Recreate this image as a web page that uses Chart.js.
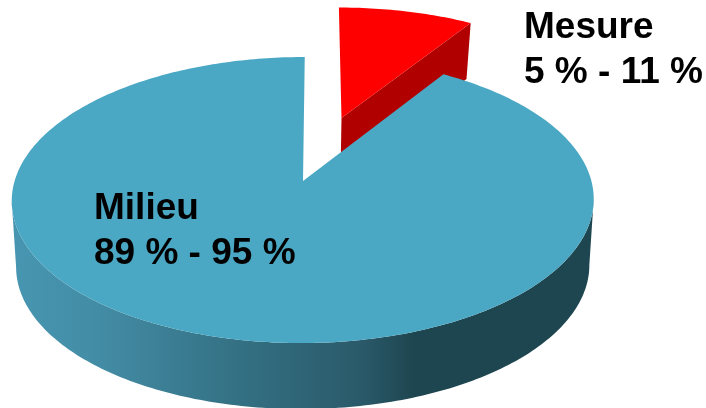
<!DOCTYPE html>
<html lang="fr">
<head>
<meta charset="utf-8">
<title>Mesure / Milieu</title>
<script src="https://cdn.jsdelivr.net/npm/chart.js@4"></script>
<style>
    html, body { margin: 0; padding: 0; background: #ffffff; }
    canvas { display: block; }
</style>
</head>
<body>
<canvas id="pie-chart" width="706" height="408"></canvas>
<script>
// Chart data
const categories = ['Mesure', 'Milieu'];
const shares = [9, 91];
const ranges = ['5 % - 11 %', '89 % - 95 %'];

// Colours: top face and side wall of each slice
const topColors = ['#ff0000', '#4ba8c4'];
const sideColors = ['#b00000', '#1e4650'];

// Perspective of the disc, in pixels
const view = {
    x: 303, y: 181,
    ax: 288.4, ay: 140.5,
    tilt: -0.133,
    shear: -2
};

// How far the red slice is pulled out, in disc radius
const EXPLODE = 0.497;

// Wall height per slice, and how much the lower rim narrows
const wallHeight = [56, 66];
const wallNarrow = [0.975, 0.985];

// Label anchors (left, first baseline)
const labelPos = [[524, 38], [94, 219]];
const LINE_GAP = 45;

// Disc coordinates (u right, v towards viewer) to screen
function project(u, v) {
    const w = 1 + view.tilt * v;
    return {
        x: view.x + (view.ax * u + view.shear * v) / w,
        y: view.y + view.ay * v / w
    };
}

function rimPoint(angle, cu, cv) {
    return project(cu + Math.cos(angle), cv + Math.sin(angle));
}

function rimPoints(arc, cu, cv) {
    const steps = Math.max(2, Math.ceil((arc.endAngle - arc.startAngle) * 60));
    const pts = [];
    for (let i = 0; i <= steps; i++) {
        const a = arc.startAngle + (arc.endAngle - arc.startAngle) * i / steps;
        pts.push(rimPoint(a, cu, cv));
    }
    return pts;
}

function lower(p, index) {
    return {
        x: view.x + (p.x - view.x) * wallNarrow[index],
        y: p.y + wallHeight[index]
    };
}

function tracePath(ctx, pts) {
    ctx.beginPath();
    pts.forEach((p, i) => {
        if (i === 0) ctx.moveTo(p.x, p.y);
        else ctx.lineTo(p.x, p.y);
    });
    ctx.closePath();
}

// Draws the slices as a tilted disc instead of the flat pie
const discPlugin = {
    id: 'disc',
    beforeDatasetDraw(chart) {
        const ctx = chart.ctx;
        const arcs = chart.getDatasetMeta(0).data;
        ctx.save();

        // Red slice first, the blue one covers its foot
        const red = arcs[0];
        const mid = (red.startAngle + red.endAngle) / 2;
        const cu = EXPLODE * Math.cos(mid);
        const cv = EXPLODE * Math.sin(mid);
        const apex = project(cu, cv);
        const redRim = rimPoints(red, cu, cv);
        const corner = redRim[redRim.length - 1];
        tracePath(ctx, [apex, corner, lower(corner, 0), lower(apex, 0)]);
        ctx.fillStyle = sideColors[0];
        ctx.fill();
        tracePath(ctx, [apex].concat(redRim));
        ctx.fillStyle = topColors[0];
        ctx.fill();

        // Blue wall, only the front of the rim, shaded from left to right
        const blue = arcs[1];
        const blueRim = rimPoints(blue, 0, 0);
        const xs = blueRim.map(p => p.x);
        const rightEnd = xs.indexOf(Math.max(...xs));
        const leftEnd = xs.indexOf(Math.min(...xs));
        const front = blueRim.slice(rightEnd, leftEnd + 1);
        const wall = front.concat(front.map(p => lower(p, 1)).reverse());
        const shade = ctx.createLinearGradient(12, 0, 594, 0);
        shade.addColorStop(0, '#4796b1');
        shade.addColorStop(0.15, '#438ca5');
        shade.addColorStop(0.4, '#336f82');
        shade.addColorStop(0.6, '#2a5a6a');
        shade.addColorStop(0.69, sideColors[1]);
        shade.addColorStop(1, sideColors[1]);
        tracePath(ctx, wall);
        ctx.fillStyle = shade;
        ctx.fill();

        tracePath(ctx, [project(0, 0)].concat(blueRim));
        ctx.fillStyle = topColors[1];
        ctx.fill();

        ctx.restore();
        return false;
    },
    afterDatasetsDraw(chart) {
        const ctx = chart.ctx;
        ctx.save();
        ctx.fillStyle = '#000000';
        ctx.font = 'bold 37px "Liberation Sans", Arial, sans-serif';
        ctx.textBaseline = 'alphabetic';
        categories.forEach((name, i) => {
            ctx.fillText(name, labelPos[i][0], labelPos[i][1]);
            ctx.fillText(ranges[i], labelPos[i][0], labelPos[i][1] + LINE_GAP);
        });
        ctx.restore();
    }
};

new Chart(document.getElementById('pie-chart').getContext('2d'), {
    type: 'pie',
    data: {
        labels: categories,
        datasets: [{
            data: shares,
            backgroundColor: topColors,
            borderWidth: 0
        }]
    },
    options: {
        responsive: false,
        animation: false,
        events: [],
        plugins: {
            legend: { display: false },
            tooltip: { enabled: false }
        }
    },
    plugins: [discPlugin]
});
</script>
</body>
</html>
